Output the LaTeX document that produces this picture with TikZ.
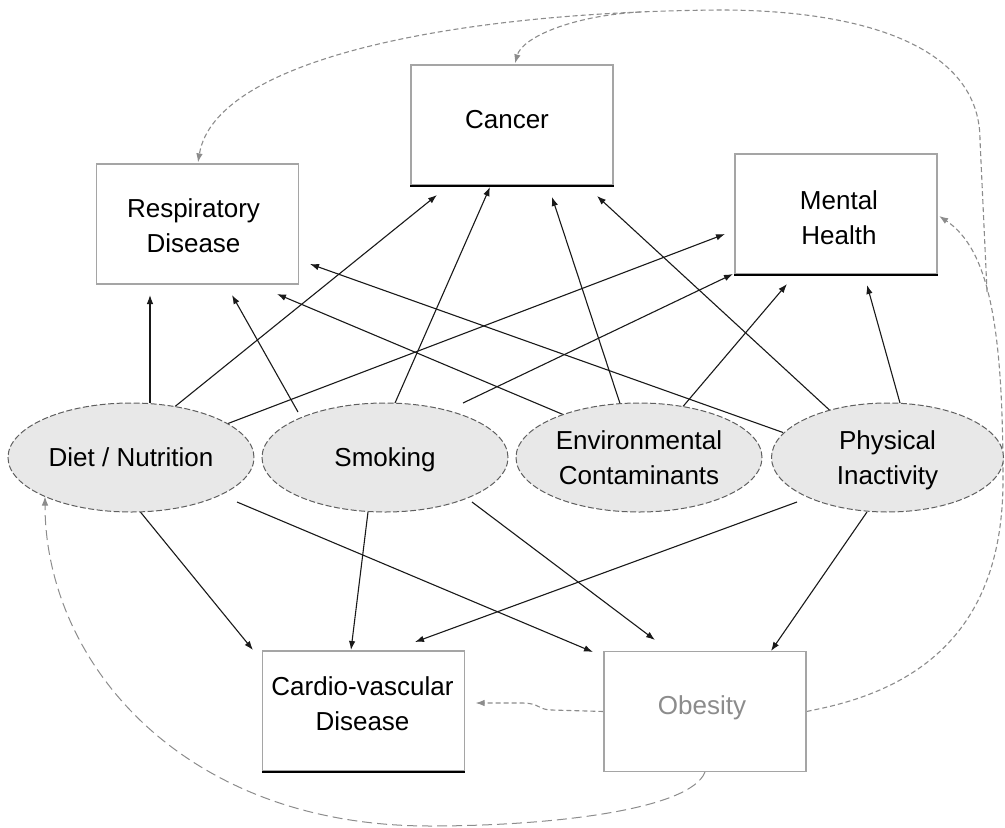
\documentclass[tikz,border=0pt]{standalone}
\usepackage{fontspec}
\setmainfont{Liberation Sans}
\usetikzlibrary{shapes.geometric,arrows.meta,calc,backgrounds}
\definecolor{boxgray}{RGB}{165,165,165}
\definecolor{ellfill}{RGB}{232,232,232}
\definecolor{ellline}{RGB}{95,95,95}
\definecolor{dshgray}{RGB}{140,140,140}
\definecolor{obtext}{RGB}{140,140,140}
\definecolor{arrblack}{RGB}{25,25,25}
\begin{document}
\begin{tikzpicture}[x=1pt,y=-1pt,
  box/.style={draw=boxgray,line width=1.2pt,minimum width=202pt,minimum height=120pt,inner sep=0pt,fill=white},
  ell/.style={ellipse,draw=ellline,fill=ellfill,dash pattern=on 6pt off 2.5pt,line width=1pt,minimum width=246pt,minimum height=109pt,inner sep=0pt,align=center,text depth=0pt},
  txt/.style={align=center,inner sep=0pt,text depth=0pt},
  arr/.style={draw=arrblack,line width=1.1pt,-{Latex[length=9pt,width=6.5pt]}},
  dsh/.style={draw=dshgray,line width=1.1pt,dash pattern=on 5pt off 3pt,-{Latex[length=9pt,width=6.5pt]}},
  dshnt/.style={draw=dshgray,line width=1.1pt,dash pattern=on 5pt off 3pt},
  dshlong/.style={draw=dshgray,line width=1pt,dash pattern=on 10pt off 5pt,-{Latex[length=9pt,width=6.5pt]}},
  shadeline/.style={draw=black,line width=2pt},
  font=\fontsize{26}{35}\selectfont]
\useasboundingbox (0,0) rectangle (1005,828);

% boxes
\node[box] (resp) at (197.5,224) {};
\node[box] (cancer) at (512,125) {};
\node[box] (mental) at (836,214) {};
\node[box] (cardio) at (363.5,711) {};
\node[box] (obesity) at (705,711.5) {};
\draw[shadeline] (cancer.south west) -- (cancer.south east);
\draw[shadeline] (mental.south west) -- (mental.south east);
\draw[shadeline] (cardio.south west) -- (cardio.south east);

\node[txt] (resp-t) at (193.5,225.5) {Respiratory\\Disease};
\node[txt] (cancer-t) at (507,119) {Cancer};
\node[txt] (mental-t) at (839,218) {Mental\\Health};
\node[txt] (cardio-t) at (362.5,703.5) {Cardio-vascular\\Disease};
\node[txt,text=obtext] (obesity-t) at (702,705.5) {Obesity};

% ellipses
\node[ell] (diet) at (131,457.5) {Diet / Nutrition};
\node[ell] (smok) at (385,457.5) {Smoking};
\node[ell] (env) at (639,457.5) {Environmental\\Contaminants};
\node[ell,minimum width=232pt] (phys) at (887.5,457.5) {Physical\\Inactivity};

\begin{pgfonlayer}{background}
% Diet / Nutrition
\draw[arr] ($(diet)+(19,-54.5)$) -- ($(resp)+(-47.5,71)$);
\draw[arr] ($(diet)+(44,-51)$) -- ($(cancer)+(-75,70)$);
\draw[arr] ($(diet)+(97,-34)$) -- ($(mental)+(-111,20)$);
\draw[arr] ($(diet)+(9,54)$) -- ($(cardio)+(-110.5,-61)$);
\draw[arr] ($(diet)+(106,44.5)$) -- ($(obesity)+(-112,-59.5)$);
% Smoking
\draw[arr] ($(smok)+(-87,-45.5)$) -- ($(resp)+(34.5,71)$);
\draw[arr] ($(smok)+(10,-54.5)$) -- ($(cancer)+(-22,62)$);
\draw[arr] ($(smok)+(78,-54.5)$) -- ($(mental)+(-103,60)$);
\draw[arr] ($(smok)+(-17,54.5)$) -- ($(cardio)+(-12.5,-61)$);
\draw[arr] ($(smok)+(87,44.5)$) -- ($(obesity)+(-50,-71.5)$);
% Environmental
\draw[arr] ($(env)+(-76,-43)$) -- ($(resp)+(79.5,70)$);
\draw[arr] ($(env)+(-19,-54)$) -- ($(cancer)+(40,72)$);
\draw[arr] ($(env)+(44,-51)$) -- ($(mental)+(-49,70)$);
% Physical inactivity
\draw[arr] ($(phys)+(-104.5,-25)$) -- ($(resp)+(112.5,40)$);
\draw[arr] ($(phys)+(-57.5,-47)$) -- ($(cancer)+(85,71)$);
\draw[arr] ($(phys)+(12.5,-54.5)$) -- ($(mental)+(31,71)$);
\draw[arr] ($(phys)+(-90.5,44.5)$) -- ($(cardio)+(51.5,-69)$);
\draw[arr] ($(phys)+(-20.5,54.5)$) -- ($(obesity)+(66,-60.5)$);

% dashed feedback paths
\draw[dsh] (obesity.west) -- (552,710) .. controls (538,710) and (540,703) .. (522,703) -- ($(cardio.east)+(10.5,-8)$);
\draw[dshlong] (obesity.south) .. controls (690,810) and (550,826) .. (430,826) .. controls (180,826) and (45,660) .. ($(diet)+(-86,39)$);
\draw[dsh] (obesity.east) -- (823,708) .. controls (950,680) and (1003,600) .. (1003,480)
   .. controls (1003,330) and (990,250) .. coordinate[pos=0.55] (jn) ($(mental.east)+(1.5,2)$);
\draw[dsh] (jn) -- (980,140) .. controls (980,45) and (860,10) .. (720,10)
   .. controls (450,12) and (215,60) .. coordinate[pos=0.1] (br) ($(resp.north)+(0.5,-1)$);
\draw[dsh] (br) .. controls (570,16) and (522,38) .. ($(cancer.north)+(3,-1)$);
\end{pgfonlayer}
\end{tikzpicture}
\end{document}
